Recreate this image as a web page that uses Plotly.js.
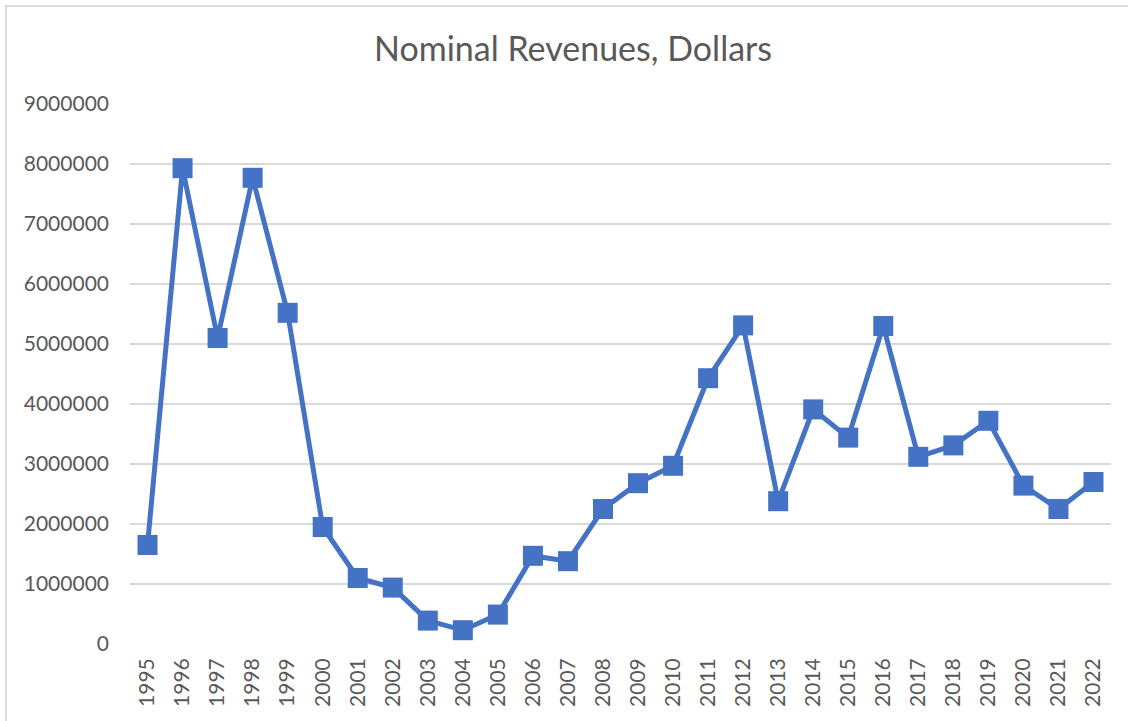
<!DOCTYPE html>
<html>
<head>
<meta charset="utf-8">
<script src="https://cdn.plot.ly/plotly-3.0.1.min.js"></script>
<style>
  html, body { margin: 0; padding: 0; background: #fff; }
  #wrap { position: relative; width: 1128px; height: 721px; overflow: hidden; }
  #chart { width: 1128px; height: 721px; }
  #frame { position: absolute; left: 5px; top: 5px; width: 1140px; height: 740px;
           border-left: 2px solid #d9d9d9; border-top: 2px solid #d9d9d9; pointer-events: none; }
</style>
</head>
<body>
<div id="wrap">
  <div id="chart"></div>
  <div id="frame"></div>
</div>
<script>
const years = ["1995","1996","1997","1998","1999","2000","2001","2002","2003","2004",
               "2005","2006","2007","2008","2009","2010","2011","2012","2013","2014",
               "2015","2016","2017","2018","2019","2020","2021","2022"];
const revenues = [1650000, 7930000, 5100000, 7770000, 5520000, 1950000, 1100000, 940000, 390000, 230000,
                  490000, 1470000, 1380000, 2250000, 2680000, 2970000, 4430000, 5310000, 2380000, 3910000,
                  3440000, 5300000, 3120000, 3310000, 3720000, 2640000, 2250000, 2700000];
const yTicks = [0, 1000000, 2000000, 3000000, 4000000, 5000000, 6000000, 7000000, 8000000, 9000000];
const chartTitle = "Nominal Revenues, Dollars";

const font = "Lato, 'Open Sans', sans-serif";
const trace = {
  type: "scatter",
  mode: "lines+markers",
  x: years,
  y: revenues,
  line: { color: "#4472C4", width: 5 },
  marker: { symbol: "square", size: 20, color: "#4472C4" },
  cliponaxis: false,
  hoverinfo: "x+y"
};
const layout = {
  width: 1128, height: 721,
  paper_bgcolor: "#ffffff", plot_bgcolor: "#ffffff",
  margin: { l: 130, r: 17, t: 104, b: 77 },
  showlegend: false,
  title: { text: chartTitle, x: 0.508, xanchor: "center", y: 0.932, yanchor: "middle",
           font: { family: font, size: 34, color: "#595959" } },
  xaxis: {
    type: "category",
    range: [-0.5, years.length - 0.5],
    tickangle: -90,
    showgrid: false, zeroline: false, showline: false, ticks: "",
    ticklabelstandoff: 9,
    tickfont: { family: font, size: 21, color: "#595959" },
    fixedrange: true
  },
  yaxis: {
    range: [0, 9000000],
    tickvals: yTicks,
    ticktext: yTicks.map(v => String(v)),
    showgrid: true, gridcolor: "#d9d9d9", gridwidth: 2,
    zeroline: false, showline: false, ticks: "",
    ticklabelstandoff: 20,
    tickfont: { family: font, size: 21, color: "#595959" },
    fixedrange: true
  }
};
Plotly.newPlot("chart", [trace], layout, { displayModeBar: false, staticPlot: true });
</script>
</body>
</html>
